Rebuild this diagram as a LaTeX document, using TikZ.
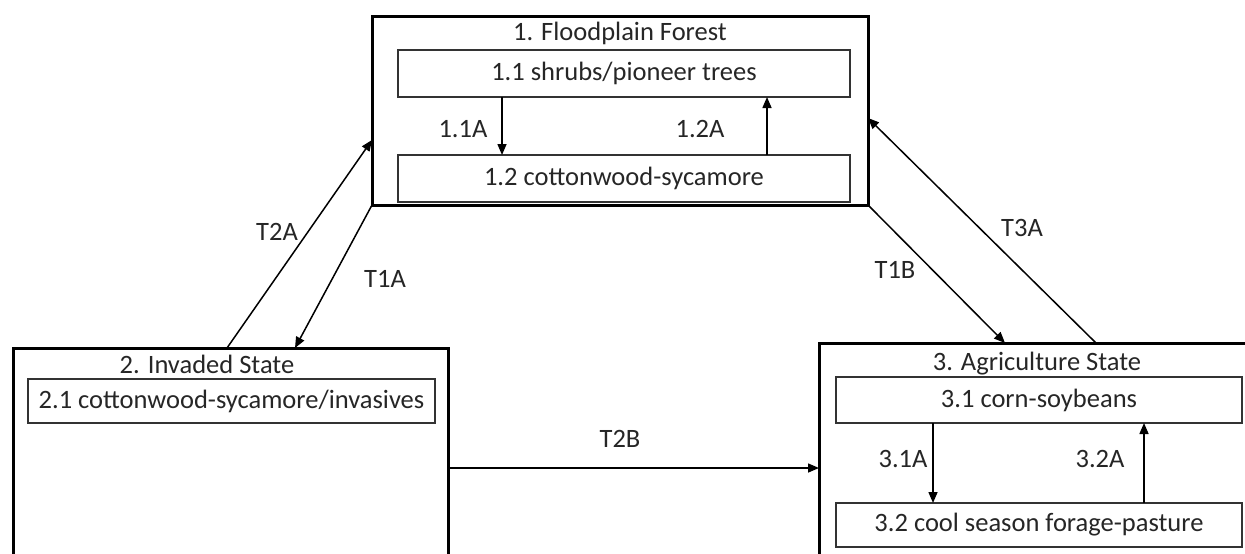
\documentclass[tikz,border=0pt]{standalone}
\usepackage{fontspec}
\setmainfont{Carlito}
\usetikzlibrary{arrows.meta,calc}
\definecolor{txt}{HTML}{262626}
\begin{document}
\begin{tikzpicture}[x=1pt,y=-1pt,
  every node/.style={inner sep=0pt, outer sep=0pt},
  statebox/.style={draw=black, line width=3pt, anchor=north west},
  phasebox/.style={draw=black!80, line width=1.3pt, anchor=north west, text=txt, font=\fontsize{26.5}{30}\selectfont},
  ttl/.style={text=txt, font=\fontsize{26.5}{30}\selectfont},
  lbl/.style={text=txt, font=\fontsize{26.5}{30}\selectfont},
  conn/.style={draw=black, line width=1.5pt, -{Triangle[length=11pt,width=9pt]}}]
\clip (0,0) rectangle (1245,554);
\fill[white] (0,0) rectangle (1245,554);
% state boxes
\node[statebox, minimum width=496pt, minimum height=189pt] (b1) at (372,16) {};
\node[statebox, minimum width=435pt, minimum height=212pt] (b2) at (13,348) {};
\node[statebox, minimum width=440pt, minimum height=217pt] (b3) at (819,343) {};
% titles
\node[ttl] (t1) at (620,33) {1. Floodplain Forest};
\node[ttl] (t2) at (207,364) {2. Invaded State};
\node[ttl] (t3) at (1037,364) {3. Agriculture State};
% phase boxes
\node[phasebox, minimum width=452pt, minimum height=47pt] (b11) at (398,50) {1.1 shrubs/pioneer trees};
\node[phasebox, minimum width=452pt, minimum height=47pt] (b12) at (398,155) {1.2 cottonwood-sycamore};
\node[phasebox, minimum width=407pt, minimum height=44pt] (b21) at (28,379) {2.1 cottonwood-sycamore/invasives};
\node[phasebox, minimum width=406pt, minimum height=46pt] (b31) at (836,377) {3.1 corn-soybeans};
\node[phasebox, minimum width=406pt, minimum height=44pt] (b32) at (836,503) {3.2 cool season forage-pasture};
% within-state arrows
\draw[conn] ($(b11.south west)+(104,0)$) -- ($(b12.north west)+(104,0)$);
\draw[conn] ($(b12.north west)+(369,0)$) -- ($(b11.south west)+(369,0)$);
\draw[conn] ($(b31.south west)+(97,0)$) -- ($(b32.north west)+(97,0)$);
\draw[conn] ($(b32.north west)+(308,0)$) -- ($(b31.south west)+(308,0)$);
\node[lbl] (l11) at (463,129) {1.1A};
\node[lbl] (l12) at (700,129) {1.2A};
\node[lbl] (l31) at (903,459) {3.1A};
\node[lbl] (l32) at (1100,459) {3.2A};
% transitions
\draw[conn] ($(b2.north west)+(214,0)$) -- ($(b1.north west)+(0,124)$);
\draw[conn] (b1.south west) -- ($(b2.north west)+(282,0)$);
\draw[conn] (b1.south east) -- ($(b3.north west)+(186,0)$);
\draw[conn] ($(b3.north west)+(277,0)$) -- ($(b1.north east)+(0,102)$);
\draw[conn] ($(b2.north east)+(0,120)$) -- ($(b3.north west)+(0,125)$);
\node[lbl] (lt2a) at (277,232) {T2A};
\node[lbl] (lt1a) at (385,279) {T1A};
\node[lbl] (lt1b) at (895,270) {T1B};
\node[lbl] (lt3a) at (1022,228) {T3A};
\node[lbl] (lt2b) at (620,439) {T2B};
\end{tikzpicture}
\end{document}
